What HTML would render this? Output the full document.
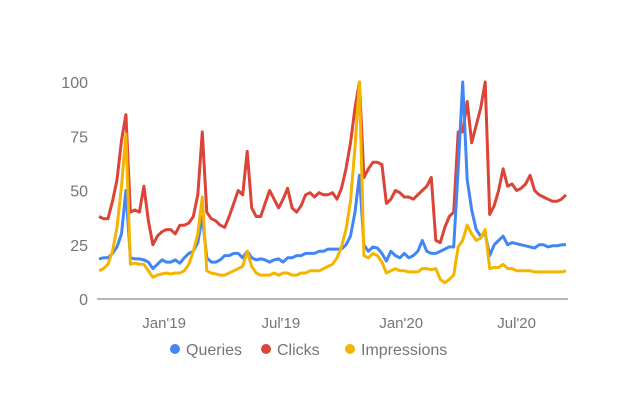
<!DOCTYPE html>
<html><head><meta charset="utf-8"><style>
html,body{margin:0;padding:0;background:#fff;}
svg{display:block;font-family:"Liberation Sans",sans-serif;}
</style></head><body>
<svg id="chart" width="631" height="407" viewBox="0 0 631 407">
<g id="yaxis"></g>
<g id="xaxis"></g>
<line x1="97" y1="299" x2="568" y2="299" stroke="#9e9e9e" stroke-width="1.5"/>
<g id="series"></g>
<g>
<g><circle cx="175" cy="349" r="5" fill="#4285f4"/><text x="186" y="355" font-size="16" fill="#757575">Queries</text></g>
<g><circle cx="266" cy="349" r="5" fill="#db4437"/><text x="277" y="355" font-size="16" fill="#757575">Clicks</text></g>
<g><circle cx="350" cy="349" r="5" fill="#f4b400"/><text x="361" y="355" font-size="16" fill="#757575">Impressions</text></g>
</g>
</svg>
<script>
const yTicks=[0,25,50,75,100];
const xTickLabels=["Jan'19","Jul'19","Jan'20","Jul'20"];
const xTickIndex=[14.5,40.5,67.3,93];
const queries=[18.5,19,19,21,24,30,50,19,18.5,18.5,18,17,14,16,18,17,17,18,16.5,19,21,22,26,38,19,17,17,18,20,20,21,21,19,22,19,18,18.5,18,17,18,18.5,17,19,19,20,20,21,21,21,22,22,23,23,23,23,25,29,40,57,25,22,24,23.5,21,17.5,22,20,19,21,19,20,22,27,22,21,21,22,23,24,24,60,100,55,41,32,29,30,20,25,27,29,25,26,25.5,25,24.5,24,23.5,25,25,24,24.5,24.5,25,25];
const clicks=[38,37,37,45,55,73,85,40,41,40,52,36,25,29,31,32,32,30,34,34,35,38,48,77,40,37,36,34,33,38,44,50,48,68,42,38,38,44,50,46,42,46,51,42,40,43,48,49,47,49,48,48,49,46,51,60,72,88,100,56,60,63,63,62,44,46,50,49,47,47,46,48,50,52,56,27,26,33,38,40,77,77,91,72,80,88,100,39,43,50,60,52,53,50,51,53,57,50,48,47,46,45,45,46,48];
const impressions=[13,14,16,22,33,52,76,16,16.5,16,16,13,10,11,11.5,12,11.5,12,12,13,16,22,30,47,13,12,11.5,11,11,12,13,14,15,22,15,12,11,11,11,12,11,12,12,11,11,12,12,13,13,13,14,15,16,19,24,32,45,70,100,20,19,21,20,17,12,13,14,13,13,12.5,12.5,12.5,14,14,13.5,14,9,7.5,9,11,24,27,34,30,27,28,32,14,14.5,14.5,16,14,14,13,13,13,13,12.5,12.5,12.5,12.5,12.5,12.5,12.5,13];
const NS="http://www.w3.org/2000/svg";
const x0=99,x1=566,yTop=82,yBot=299;
function xs(i){return x0+(x1-x0)*i/(queries.length-1);}
function ys(v){return yBot-(yBot-yTop)*v/100;}
const yax=document.getElementById('yaxis');
yTicks.forEach(t=>{
  const el=document.createElementNS(NS,'text');
  el.setAttribute('x',88);el.setAttribute('y',ys(t)+6);
  el.setAttribute('text-anchor','end');el.setAttribute('font-size','16');el.setAttribute('fill','#757575');
  
  
  el.textContent=t;yax.appendChild(el);
});
const xax=document.getElementById('xaxis');
xTickLabels.forEach((l,k)=>{
  const el=document.createElementNS(NS,'text');
  el.setAttribute('x',xs(xTickIndex[k]));el.setAttribute('y',328);
  el.setAttribute('text-anchor','middle');el.setAttribute('font-size','15');el.setAttribute('fill','#757575');
  
  
  el.textContent=l;xax.appendChild(el);
});
const sg=document.getElementById('series');
[[clicks,'#db4437','clicks-line'],[queries,'#4285f4','queries-line'],[impressions,'#f4b400','impressions-line']].forEach(([d,c,n])=>{
  const p=document.createElementNS(NS,'polyline');
  p.setAttribute('points',d.map((v,i)=>xs(i).toFixed(1)+','+ys(v).toFixed(1)).join(' '));
  p.setAttribute('fill','none');p.setAttribute('stroke',c);p.setAttribute('stroke-width','3');
  p.setAttribute('stroke-linejoin','round');
  
  
  sg.appendChild(p);
});
</script>
</body></html>
